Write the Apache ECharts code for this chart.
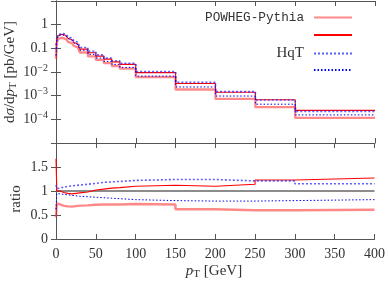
<!DOCTYPE html>
<html>
<head>
<meta charset="utf-8">
<script src="https://cdn.jsdelivr.net/npm/echarts@6/dist/echarts.min.js"></script>
<style>
html,body{margin:0;padding:0;background:#fff;}
#chart{width:388px;height:282px;}
</style>
</head>
<body>
<div id="chart"></div>
<script>
// ---- data ----
const binEdges = [0,1,2.5,5,7.5,10,12.5,15,17.5,20,22.5,25,27.5,30,40,50,60,70,80,100,150,200,250,300,400];

// top panel: dsigma/dpT [pb/GeV]
const powhegLow  = [0.036,0.163,0.252,0.28,0.269,0.245,0.218,0.189,0.165,0.143,0.127,0.110,0.097,0.0665,0.0458,0.0324,0.0238,0.018,0.0139,0.00605,0.00183,0.000732,0.000327,0.000115];
const powhegHigh = [0.134,0.22,0.35,0.396,0.378,0.346,0.304,0.265,0.230,0.198,0.176,0.153,0.134,0.093,0.065,0.047,0.035,0.0268,0.0209,0.0094,0.00325,0.00139,0.00067,0.000239];
const hqtHigh    = [0.0896,0.231,0.371,0.428,0.421,0.392,0.350,0.308,0.271,0.233,0.206,0.179,0.158,0.108,0.0742,0.0531,0.0393,0.030,0.0232,0.0104,0.00366,0.00148,0.00066,0.000216];
const hqtLow     = [0.0496,0.209,0.329,0.374,0.363,0.333,0.294,0.256,0.223,0.190,0.1665,0.143,0.125,0.0836,0.0557,0.0387,0.028,0.021,0.0156,0.00672,0.00233,0.000964,0.000436,0.000154];

// bottom panel: ratio
const ratioPowhegLow  = [0.45,0.74,0.72,0.70,0.69,0.68,0.68,0.675,0.675,0.68,0.685,0.69,0.695,0.70,0.715,0.72,0.72,0.72,0.73,0.72,0.62,0.60,0.60,0.61];
const ratioPowhegHigh = [1.67,1.0,1.0,0.99,0.97,0.96,0.95,0.945,0.94,0.945,0.95,0.955,0.96,0.98,1.02,1.04,1.06,1.07,1.1,1.12,1.10,1.14,1.23,1.27];
const ratioHqtHigh    = [1.12,1.05,1.06,1.07,1.08,1.09,1.095,1.10,1.105,1.11,1.115,1.12,1.125,1.14,1.16,1.18,1.19,1.2,1.22,1.24,1.24,1.21,1.21,1.15];
const ratioHqtLow     = [0.62,0.95,0.94,0.935,0.93,0.925,0.92,0.915,0.91,0.905,0.90,0.895,0.89,0.88,0.87,0.86,0.85,0.84,0.82,0.80,0.79,0.79,0.80,0.82];
const ratioReference  = [1];

// ticks
const xTickLabels = ['0','50','100','150','200','250','300','350','400'];
const ratioTickLabels = ['0','0.5','1','1.5'];
const topTickLabels = {'0':'1','-1':'0.1','-2':'10^-2','-3':'10^-3','-4':'10^-4'};

// ---- helpers ----
function stepData(edges, vals){
  const d = vals.map((v,i)=>[edges[i], v]);
  d.push([edges[edges.length-1], vals[vals.length-1]]);
  return d;
}
const refData = [[binEdges[0], ratioReference[0]], [binEdges[binEdges.length-1], ratioReference[0]]];

const SERIF = 'Liberation Serif';
const AX = '#555';
const TXT = '#333';

const styles = {
  powLight: {color:'rgba(255,40,40,0.55)', width:2.4, type:'solid'},
  powDark:  {color:'#ff0000', width:1.1, type:'solid'},
  hqtLight: {color:'rgba(40,40,255,0.75)', width:1.6, type:[2,2]},
  hqtDark:  {color:'#0000ee', width:1, type:[1.5,2]}
};
function ser(name, data, st, xi, yi, z){
  return {name:name, type:'line', step:'end', data:data, xAxisIndex:xi, yAxisIndex:yi,
    symbol:'none', z:z, itemStyle:{color:st.color},
    lineStyle:{color:st.color, width:st.width, type:st.type}, silent:true};
}

function xAx(grid, pos, labels){
  return {type:'value', gridIndex:grid, position:pos, min:0, max:400, interval:50,
    axisLine:{show:true, onZero:false, lineStyle:{color:AX, width:1}},
    axisTick:{show:true, inside:true, length:5, lineStyle:{color:AX}},
    splitLine:{show:false},
    axisLabel:{show:labels, margin:8, color:TXT, fontFamily:SERIF, fontSize:14,
      formatter:(v)=>{const i = Math.round(v/50); return xTickLabels[i] || '';}}
  };
}

function leg(name, top, textStyle, blank){
  const l = {data:[name], right:30, top:top, orient:'vertical', align:'right', itemWidth:38, itemHeight:14,
    selectedMode:false, itemStyle:{color:'transparent', borderWidth:0, opacity:0}, textStyle:textStyle};
  if(blank) l.formatter = ()=>'';
  return l;
}

const option = {
  animation:false,
  backgroundColor:'#fff',
  grid:[
    {left:56, right:13, top:1, height:142},
    {left:56, right:13, top:143, height:96}
  ],
  xAxis:[ xAx(0,'bottom',false), xAx(0,'top',false), xAx(1,'bottom',true), xAx(1,'top',false) ],
  yAxis:[
    {type:'log', gridIndex:0, position:'left', min:1e-5, max:10, logBase:10,
      axisLine:{show:true, lineStyle:{color:AX}},
      axisTick:{show:true, inside:true, length:5, lineStyle:{color:AX}},
      minorTick:{show:false}, splitLine:{show:false},
      axisLabel:{margin:8, color:TXT, fontFamily:SERIF, fontSize:14,
        formatter:(v)=>{
          const e = String(Math.round(Math.log10(v)));
          const t = topTickLabels[e];
          if(!t) return '';
          if(t.indexOf('^')>=0){ const p=t.split('^'); return '{b|'+p[0]+'}{s|'+p[1].replace('-','\u2212')+'}'; }
          return t;
        },
        rich:{b:{fontFamily:SERIF, fontSize:14, color:TXT}, s:{fontFamily:SERIF, fontSize:10, color:TXT, padding:[0,0,8,0]}}
      }},
    {type:'log', gridIndex:0, position:'right', min:1e-5, max:10, logBase:10,
      axisLine:{show:true, lineStyle:{color:AX}},
      axisTick:{show:true, inside:true, length:5, lineStyle:{color:AX}},
      minorTick:{show:false}, splitLine:{show:false}, axisLabel:{show:false}},
    {type:'value', gridIndex:1, position:'left', min:0, max:2, interval:0.5,
      axisLine:{show:true, lineStyle:{color:AX}},
      axisTick:{show:true, inside:true, length:5, lineStyle:{color:AX}},
      splitLine:{show:false},
      axisLabel:{margin:8, color:TXT, fontFamily:SERIF, fontSize:14,
        formatter:(v)=>{const i=Math.round(v/0.5); return ratioTickLabels[i] || '';}}},
    {type:'value', gridIndex:1, position:'right', min:0, max:2, interval:0.5,
      axisLine:{show:true, lineStyle:{color:AX}},
      axisTick:{show:true, inside:true, length:5, lineStyle:{color:AX}},
      splitLine:{show:false}, axisLabel:{show:false}}
  ],
  legend:[
    leg('POWHEG-Pythia', 6, {fontFamily:'Liberation Mono', fontSize:12.7, color:TXT, padding:[0,5,0,0]}, false),
    leg('POWHEG-Pythia ', 23, {fontSize:12}, true),
    leg('HqT', 41, {fontFamily:SERIF, fontSize:15, color:TXT, padding:[0,5,0,0]}, false),
    leg('HqT ', 58, {fontSize:12}, true)
  ],
  graphic:[
    {type:'text', x:10, y:72, rotation:Math.PI/2,
      style:{text:'d{i|\u03c3}/d{i|p}{sub|T} [pb/GeV]', align:'center', verticalAlign:'middle',
        fontFamily:SERIF, fontSize:15, fill:TXT,
        rich:{i:{fontFamily:SERIF, fontStyle:'italic', fontSize:15, fill:TXT},
              sub:{fontFamily:SERIF, fontSize:11, fill:TXT, padding:[6,0,0,0]}}}},
    {type:'text', x:16, y:199, rotation:Math.PI/2,
      style:{text:'ratio', align:'center', verticalAlign:'middle', fontFamily:SERIF, fontSize:15, fill:TXT}},
    {type:'text', x:214, y:271,
      style:{text:'{i|p}{sub|T} [GeV]', align:'center', verticalAlign:'middle', fontFamily:SERIF, fontSize:15, fill:TXT,
        rich:{i:{fontFamily:SERIF, fontStyle:'italic', fontSize:15, fill:TXT},
              sub:{fontFamily:SERIF, fontSize:11, fill:TXT, padding:[6,0,0,0]}}}}
  ],
  series:[
    ser('POWHEG-Pythia', stepData(binEdges, powhegLow), styles.powLight, 0, 0, 2),
    ser('POWHEG-Pythia ', stepData(binEdges, powhegHigh), styles.powDark, 0, 0, 3),
    ser('HqT', stepData(binEdges, hqtHigh), styles.hqtLight, 0, 0, 4),
    ser('HqT ', stepData(binEdges, hqtLow), styles.hqtDark, 0, 0, 5),
    {type:'line', data:refData, xAxisIndex:2, yAxisIndex:2, symbol:'none', silent:true, z:1,
      lineStyle:{color:'#666', width:1.3}},
    ser('POWHEG-Pythia', stepData(binEdges, ratioPowhegLow), styles.powLight, 2, 2, 2),
    ser('POWHEG-Pythia ', stepData(binEdges, ratioPowhegHigh), styles.powDark, 2, 2, 3),
    ser('HqT', stepData(binEdges, ratioHqtHigh), styles.hqtLight, 2, 2, 4),
    ser('HqT ', stepData(binEdges, ratioHqtLow), styles.hqtDark, 2, 2, 5)
  ]
};
const chart = echarts.init(document.getElementById('chart'), null, {renderer:'canvas'});
chart.setOption(option);
</script>
</body>
</html>
